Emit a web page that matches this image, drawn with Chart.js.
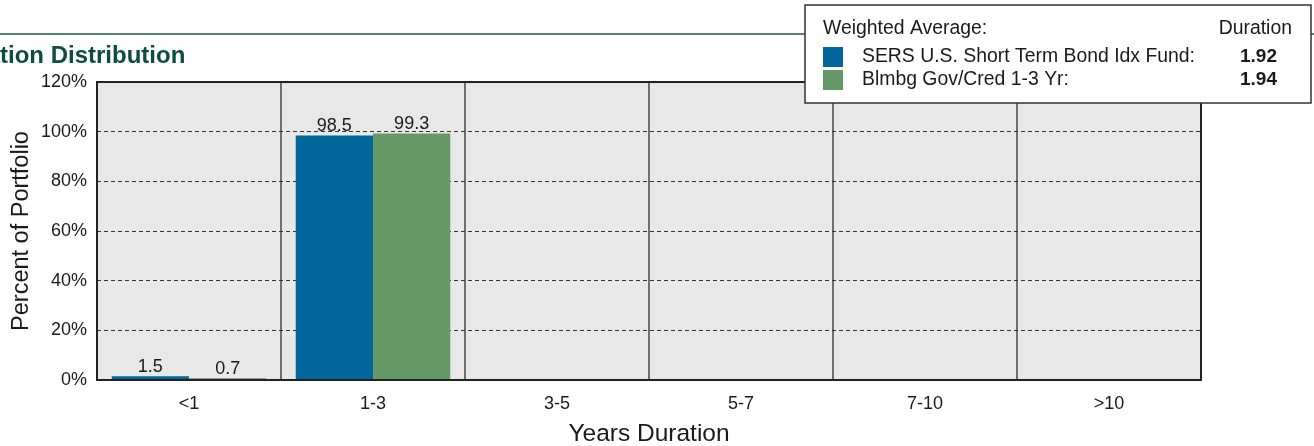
<!DOCTYPE html>
<html>
<head>
<meta charset="utf-8">
<script src="https://cdn.jsdelivr.net/npm/chart.js@4/dist/chart.umd.min.js"></script>
<style>
  html, body { margin: 0; padding: 0; background: #fff; }
  #wrap { width: 1314px; height: 446px; position: relative; }
</style>
</head>
<body>
<div id="wrap"><canvas id="duration" width="1314" height="446"></canvas></div>
<script>
const categories = ['<1', '1-3', '3-5', '5-7', '7-10', '>10'];
const fundValues = [1.5, 98.5, 0, 0, 0, 0];
const benchValues = [0.7, 99.3, 0, 0, 0, 0];
const seriesNames = ['SERS U.S. Short Term Bond Idx Fund:', 'Blmbg Gov/Cred 1-3 Yr:'];
const durations = ['1.92', '1.94'];
const yTicks = [0, 20, 40, 60, 80, 100, 120];

const FONT = 'Arial, "Liberation Sans", sans-serif';
const BLUE = '#00669b';
const GREEN = '#669966';

// grey plot background
const plotBg = {
  id: 'plotBg',
  beforeDraw(chart) {
    const { ctx, chartArea: a } = chart;
    ctx.save();
    ctx.fillStyle = '#e8e8e8';
    ctx.fillRect(a.left, a.top, a.right - a.left, a.bottom - a.top);
    ctx.restore();
  }
};

// values above bars, border, title and the duration box
const decorations = {
  id: 'decorations',
  afterDatasetsDraw(chart) {
    const ctx = chart.ctx;
    ctx.save();
    ctx.font = '18px ' + FONT;
    ctx.fillStyle = '#1a1a1a';
    ctx.textAlign = 'center';
    ctx.textBaseline = 'alphabetic';
    chart.data.datasets.forEach((ds, i) => {
      chart.getDatasetMeta(i).data.forEach((bar, j) => {
        if (ds.data[j] > 0) ctx.fillText(ds.data[j].toFixed(1), bar.x, bar.y - 4);
      });
    });
    ctx.restore();
  },
  afterDraw(chart) {
    const { ctx, chartArea: a } = chart;
    ctx.save();
    ctx.strokeStyle = '#222';
    ctx.lineWidth = 2;
    ctx.strokeRect(a.left, a.top, a.right - a.left, a.bottom - a.top);

    // header rule + clipped title
    ctx.strokeStyle = '#1e5a48';
    ctx.lineWidth = 1.5;
    ctx.beginPath();
    ctx.moveTo(0, 34);
    ctx.lineTo(chart.width, 34);
    ctx.stroke();
    ctx.font = 'bold 24px ' + FONT;
    ctx.fillStyle = '#0e4c3c';
    ctx.textBaseline = 'middle';
    const pre = ctx.measureText('Dura').width;
    ctx.fillText('Duration Distribution', -pre, 56);

    // weighted average box
    ctx.fillStyle = '#fff';
    ctx.fillRect(805, 5, 506, 98);
    ctx.strokeStyle = '#333';
    ctx.lineWidth = 1.5;
    ctx.strokeRect(805, 5, 506, 98);
    ctx.font = '19.4px ' + FONT;
    ctx.fillStyle = '#1a1a1a';
    ctx.textAlign = 'left';
    ctx.fillText('Weighted Average:', 823, 29);
    ctx.textAlign = 'right';
    ctx.fillText('Duration', 1292, 29);
    const colors = [BLUE, GREEN];
    seriesNames.forEach((name, i) => {
      const y = 57 + i * 23;
      ctx.fillStyle = colors[i];
      ctx.fillRect(823, y - 10, 20, 20);
      ctx.fillStyle = '#1a1a1a';
      ctx.textAlign = 'left';
      ctx.font = '19.4px ' + FONT;
      ctx.fillText(name, 862, y);
      ctx.textAlign = 'right';
      ctx.font = 'bold 19px ' + FONT;
      ctx.fillText(durations[i], 1277, y);
    });
    ctx.restore();
  }
};

new Chart(document.getElementById('duration'), {
  type: 'bar',
  data: {
    labels: categories,
    datasets: [
      { label: seriesNames[0], data: fundValues, backgroundColor: BLUE },
      { label: seriesNames[1], data: benchValues, backgroundColor: GREEN }
    ]
  },
  options: {
    responsive: false,
    animation: false,
    layout: { padding: { top: 82, right: 113, left: 0, bottom: 0 } },
    datasets: { bar: { categoryPercentage: 0.84, barPercentage: 1.0 } },
    plugins: { legend: { display: false }, tooltip: { enabled: false } },
    scales: {
      x: {
        grid: { offset: true, color: '#707070', lineWidth: 2, drawTicks: false },
        border: { display: false },
        ticks: { color: '#1a1a1a', font: { family: FONT, size: 18 }, padding: 13 },
        title: { display: true, text: 'Years Duration', color: '#1a1a1a', font: { family: FONT, size: 24.5, lineHeight: 1.0 }, padding: { top: 0, bottom: 0 } },
        afterFit(scale) { scale.height = 66; }
      },
      y: {
        min: 0,
        max: 120,
        afterBuildTicks(scale) { scale.ticks = yTicks.map(v => ({ value: v })); },
        grid: { color: '#333', lineWidth: 1, drawTicks: false },
        border: { display: false, dash: [4, 3] },
        ticks: { color: '#1a1a1a', font: { family: FONT, size: 18 }, padding: 10, callback: v => v + '%' },
        title: { display: true, text: 'Percent of Portfolio', color: '#1a1a1a', font: { family: FONT, size: 23.5 }, padding: { top: 7, bottom: 0 } },
        afterFit(scale) { scale.width = 97; }
      }
    }
  },
  plugins: [plotBg, decorations]
});
</script>
</body>
</html>
